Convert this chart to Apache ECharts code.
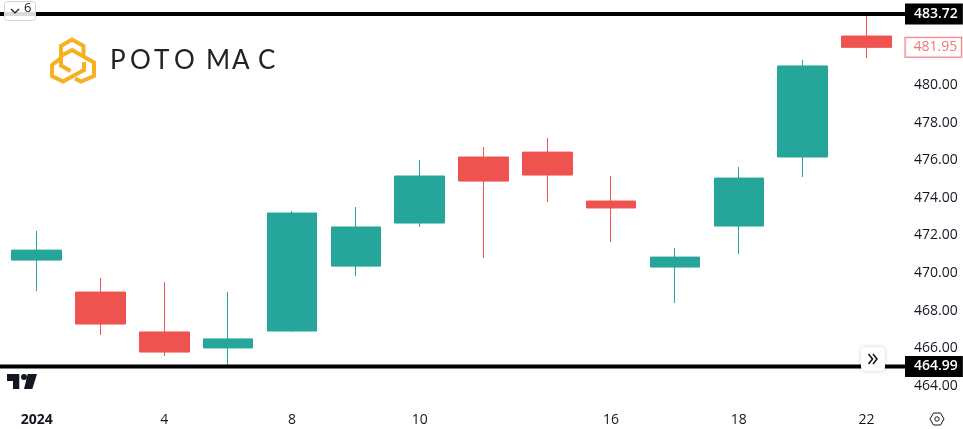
<!DOCTYPE html>
<html><head><meta charset="utf-8">
<style>html,body{margin:0;padding:0;background:#fff}#c{width:963px;height:429px}</style>
<script src="https://cdn.jsdelivr.net/npm/echarts@6/dist/echarts.min.js"></script>
</head><body><div id="c"></div>
<script>
const days = ['2024','3','4','5','8','9','10','11','12','16','17','18','19','22'];
const shownDays = ['2024','4','8','10','16','18','22'];
const opens  = [470.64,468.94,466.82,465.97,466.87,470.32,472.61,476.12,476.38,473.78,470.27,472.45,476.12,482.55];
const closes = [471.17,467.24,465.75,466.45,473.14,472.40,475.11,474.84,475.16,473.41,470.80,475.00,480.96,481.95];
const lows   = [468.99,466.66,465.54,464.99,466.82,469.79,472.40,470.75,473.73,471.60,468.36,470.96,475.06,481.38];
const highs  = [472.19,469.69,469.47,468.94,473.25,473.46,475.96,476.65,477.13,475.11,471.28,475.59,481.28,483.72];
const priceTicks = [464,466,468,470,472,474,476,478,480];
const highLevel = 483.72, lowLevel = 464.99, lastPrice = 481.95;

const UP='#26a69a', DOWN='#ef5350', INK='#131722', FONT='"Open Sans",sans-serif', GOLD='#f5b120';
const yRange={min:462.99,max:484.466};
const ohlc=days.map((_,i)=>[opens[i],closes[i],lows[i],highs[i]]);
const logoPaths=[
  [[70.5,71],[61,65.5],[61,46],[72,39.5],[83.5,46],[83.5,55]],
  [[61,56],[72,50],[94,62.5],[94,76],[81,81.5],[75,78.5]],
  [[61,58],[52,65],[52,76],[63,81.5],[84,70],[84,62]]
];
const word=[...'POTOMAC'];
const wordX=[110,130,154,174,206,232,258];
const levelLabel={show:true,position:'right',distance:0,color:'#fff',backgroundColor:'#000',fontFamily:FONT,fontSize:14,fontWeight:600,padding:[3,5,3,9],lineHeight:15};
const level=(v)=>({type:'line',xAxisIndex:1,yAxisIndex:1,symbol:'none',silent:true,clip:false,z:5,
  lineStyle:{color:'#000',width:4},
  data:[[0,v],[1,v]],
  endLabel:Object.assign({},levelLabel,{formatter:()=>v.toFixed(2)})});
const chart=echarts.init(document.getElementById('c'),null,{renderer:'canvas'});
chart.setOption({
  animation:false,backgroundColor:'#fff',
  grid:[{left:4.75,top:0,width:893.6,height:404},{left:0,top:0,width:905,height:404}],
  xAxis:[{type:'category',gridIndex:0,data:days,boundaryGap:true,
      axisLine:{show:false},axisTick:{show:false},splitLine:{show:false},
      axisLabel:{interval:(i,v)=>shownDays.includes(v),margin:9,fontFamily:FONT,fontSize:14,color:INK,
        formatter:v=>v==='2024'?'{b|2024}':v,rich:{b:{fontFamily:FONT,fontSize:14,fontWeight:700,color:INK}}}},
    {type:'value',gridIndex:1,min:0,max:1,show:false}],
  yAxis:[{type:'value',gridIndex:0,min:yRange.min,max:yRange.max,show:false,splitLine:{show:false}},
    {type:'value',gridIndex:1,position:'right',min:yRange.min,max:yRange.max,
      axisLine:{show:false},axisTick:{show:false},splitLine:{show:false},
      axisLabel:{customValues:priceTicks,margin:9,fontFamily:FONT,fontSize:14,color:INK,
        formatter:v=>'{a|'+v.toFixed(2)+'}',
        rich:{a:{fontFamily:FONT,fontSize:14,color:INK,padding:[2,0,0,0]}},
        showMinLabel:true,showMaxLabel:true}}],
  series:[
    {type:'candlestick',xAxisIndex:0,yAxisIndex:0,data:ohlc,barWidth:50,z:3,
      itemStyle:{color:UP,color0:DOWN,borderColor:UP,borderColor0:DOWN,borderWidth:1,borderJoin:'miter'}},
    level(highLevel),level(lowLevel),
    {type:'scatter',xAxisIndex:1,yAxisIndex:1,symbolSize:0,silent:true,clip:false,z:6,data:[[1,lastPrice]],
      label:{show:true,position:'right',distance:0.5,formatter:()=>lastPrice.toFixed(2),color:DOWN,backgroundColor:'#fff',borderColor:DOWN,borderWidth:1,
        fontFamily:FONT,fontSize:14,fontWeight:500,padding:[2,4,2,8],lineHeight:15}}
  ],
  graphic:[
    ...logoPaths.map(p=>({type:'polyline',shape:{points:p},style:{stroke:GOLD,fill:'none',lineWidth:4,lineJoin:'miter'},z:50})),
    ...word.map((ch,i)=>({type:'text',left:wordX[i],top:48,z:50,style:{text:ch,font:'400 26px "Lato",sans-serif',fill:'#222'}})),
    {type:'rect',shape:{x:4.5,y:1.5,width:31,height:19,r:3},style:{fill:'rgba(255,255,255,0.85)',stroke:'#d1d4dc',lineWidth:1},z:60},
    {type:'polyline',shape:{points:[[11,9],[15,13],[19,9]]},style:{stroke:INK,fill:'none',lineWidth:1.2},z:61},
    {type:'text',left:24,top:2,z:61,style:{text:'6',font:'13px '+FONT,fill:INK}},
    {type:'rect',shape:{x:861,y:347,width:24,height:24,r:4},style:{fill:'#fff',shadowBlur:4,shadowColor:'rgba(0,0,0,0.18)'},z:60},
    {type:'polyline',shape:{points:[[868.5,354],[872.5,359],[868.5,364]]},style:{stroke:INK,fill:'none',lineWidth:1.6},z:61},
    {type:'polyline',shape:{points:[[873,354],[877,359],[873,364]]},style:{stroke:INK,fill:'none',lineWidth:1.6},z:61},
    {type:'polygon',shape:{points:[[7,374],[19.3,374],[19.3,389],[13,389],[13,381],[7,381]]},style:{fill:INK},z:60},
    {type:'circle',shape:{cx:24,cy:377,r:3},style:{fill:INK},z:60},
    {type:'polygon',shape:{points:[[27.7,374],[37,374],[32.3,389],[24,389]]},style:{fill:INK},z:60},
    {type:'polygon',shape:{points:[[930,419],[933.5,413],[940.5,413],[944,419],[940.5,425],[933.5,425]]},style:{fill:'none',stroke:INK,lineWidth:1},z:60},
    {type:'circle',shape:{cx:937,cy:419,r:2.2},style:{fill:'none',stroke:INK,lineWidth:1},z:60}
  ]
});
</script></body></html>
